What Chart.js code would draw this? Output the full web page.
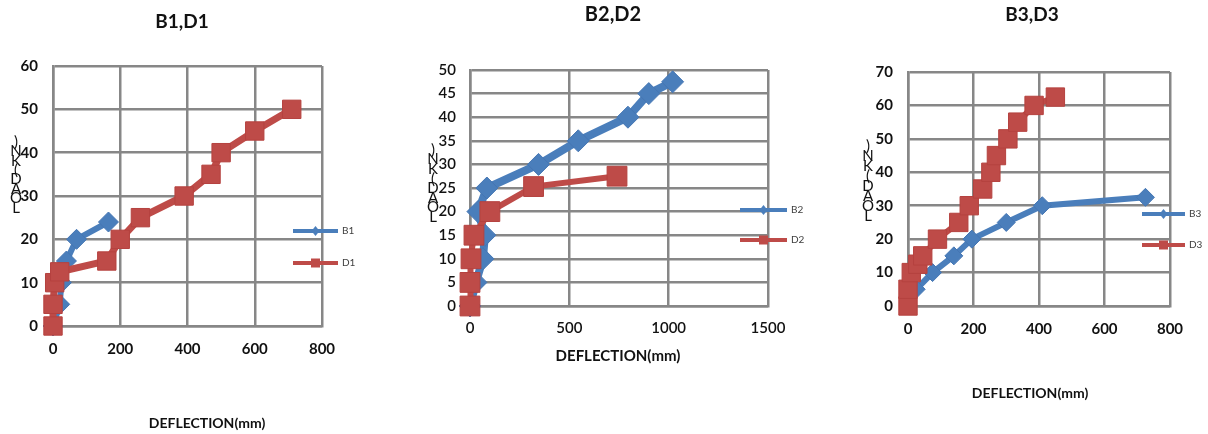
<!DOCTYPE html>
<html>
<head>
<meta charset="utf-8">
<script src="https://cdn.jsdelivr.net/npm/chart.js@4.4.1/dist/chart.umd.min.js"></script>
<style>
  html, body { margin: 0; padding: 0; background: #ffffff; }
  #wrap { position: relative; width: 1208px; height: 434px; overflow: hidden; }
  .panel { position: absolute; top: 0; height: 434px; }
</style>
</head>
<body>
<div id="wrap">
  <div class="panel" style="left:0px;width:400px"><canvas id="c1" width="400" height="434"></canvas></div>
  <div class="panel" style="left:400px;width:420px"><canvas id="c2" width="420" height="434"></canvas></div>
  <div class="panel" style="left:820px;width:388px"><canvas id="c3" width="388" height="434"></canvas></div>
</div>
<script>
// Load–deflection test results, three beam pairs
const b1Deflection = [0, 20, 25, 40, 70, 165];
const b1Load       = [0, 5, 10, 15, 20, 24];
const d1Deflection = [0, 0, 5, 20, 160, 200, 260, 390, 470, 500, 600, 710];
const d1Load       = [0, 5, 10, 12.5, 15, 20, 25, 30, 35, 40, 45, 50];

const b2Deflection = [0, 30, 65, 75, 40, 85, 345, 545, 795, 900, 1020];
const b2Load       = [0, 5, 10, 15, 20, 25, 30, 35, 40, 45, 47.5];
const d2Deflection = [0, 0, 5, 20, 100, 320, 740];
const d2Load       = [0, 5, 10, 15, 20, 25.3, 27.5];

const b3Deflection = [0, 25, 75, 140, 195, 300, 410, 725];
const b3Load       = [0, 5, 10, 15, 20, 25, 30, 32.5];
const d3Deflection = [0, 0, 10, 30, 45, 90, 155, 187, 228, 253, 270, 305, 335, 385, 450];
const d3Load       = [0, 5, 10, 12.5, 15, 20, 25, 30, 35, 40, 45, 50, 55, 60, 62.5];

// Axis tick values
const xTicks1 = [0, 200, 400, 600, 800];
const yTicks1 = [0, 10, 20, 30, 40, 50, 60];
const xTicks2 = [0, 500, 1000, 1500];
const yTicks2 = [0, 5, 10, 15, 20, 25, 30, 35, 40, 45, 50];
const xTicks3 = [0, 200, 400, 600, 800];
const yTicks3 = [0, 10, 20, 30, 40, 50, 60, 70];

// Labels
const chartTitles = ['B1,D1', 'B2,D2', 'B3,D3'];
const seriesNames = [['B1', 'D1'], ['B2', 'D2'], ['B3', 'D3']];
const xAxisTitle = 'DEFLECTION(mm)';
const yAxisTitle = 'LOAD(KN)';

const BLUE = '#4a7ebb';
const RED = '#be4b48';
const GRID = '#878787';
const FONT = 'Lato, "Open Sans", "Liberation Sans", sans-serif';

function toPoints(xs, ys) {
  return xs.map((x, i) => ({ x: x, y: ys[i] }));
}

// Draws title, stacked y-axis caption, x-axis caption and legend
const decorPlugin = {
  id: 'decor',
  afterDraw(chart, args, o) {
    const ctx = chart.ctx;
    ctx.save();
    ctx.fillStyle = '#111111';
    ctx.textAlign = 'center';
    ctx.textBaseline = 'middle';
    ctx.font = 'bold ' + o.titleSize + 'px ' + FONT;
    ctx.fillText(o.title, o.titleX, o.titleY);

    ctx.font = o.xTitleWeight + ' ' + o.xTitleSize + 'px ' + FONT;
    ctx.fillText(xAxisTitle, o.xTitleX, o.xTitleY);

    // vertical stacked caption, read bottom to top
    ctx.font = '15px ' + FONT;
    ctx.fillStyle = '#111111';
    const chars = yAxisTitle.split('').reverse();
    chars.forEach((c, i) => {
      ctx.fillText(c, o.yTitleX, o.yTitleTop + i * o.yTitleStep);
    });

    // legend
    const items = [
      { name: o.names[0], color: BLUE, style: 'diamond', y: o.legendY[0] },
      { name: o.names[1], color: RED, style: 'square', y: o.legendY[1] }
    ];
    items.forEach(it => {
      ctx.strokeStyle = it.color;
      ctx.lineWidth = 4;
      ctx.beginPath();
      ctx.moveTo(o.legendX1, it.y);
      ctx.lineTo(o.legendX2, it.y);
      ctx.stroke();
      const mx = (o.legendX1 + o.legendX2) / 2;
      ctx.fillStyle = it.color;
      ctx.beginPath();
      if (it.style === 'diamond') {
        ctx.moveTo(mx, it.y - 5); ctx.lineTo(mx + 4, it.y);
        ctx.lineTo(mx, it.y + 5); ctx.lineTo(mx - 4, it.y);
        ctx.closePath();
      } else {
        ctx.rect(mx - 4.5, it.y - 4.5, 9, 9);
      }
      ctx.fill();
      ctx.fillStyle = '#404040';
      ctx.textAlign = 'left';
      ctx.font = '10px ' + FONT;
      ctx.fillText(it.name, o.legendX2 + 4, it.y);
      ctx.textAlign = 'center';
    });
    ctx.restore();
  }
};

function makeChart(id, cfg) {
  const el = document.getElementById(id);
  const W = el.width, H = el.height;
  const tickFont = { family: FONT, size: 15, weight: cfg.tickWeight };
  return new Chart(el, {
    type: 'line',
    data: {
      datasets: [
        {
          label: cfg.names[1],
          data: toPoints(cfg.dX, cfg.dY),
          borderColor: RED,
          backgroundColor: RED,
          borderWidth: cfg.redWidth,
          pointStyle: 'rect',
          pointRadius: cfg.squareR,
          pointBackgroundColor: RED,
          pointBorderColor: '#b5423f',
          pointBorderWidth: 1,
          tension: 0,
          clip: false,
          order: 1
        },
        {
          label: cfg.names[0],
          data: toPoints(cfg.bX, cfg.bY),
          borderColor: BLUE,
          backgroundColor: BLUE,
          borderWidth: cfg.blueWidth,
          pointStyle: 'rectRot',
          pointRadius: cfg.diamondR,
          pointBackgroundColor: BLUE,
          pointBorderColor: '#4576b3',
          pointBorderWidth: 1,
          tension: 0,
          clip: false,
          order: 2
        }
      ]
    },
    options: {
      responsive: false,
      animation: false,
      events: [],
      layout: { padding: { left: 0, top: cfg.area.top, right: W - cfg.area.right, bottom: 0 } },
      plugins: {
        legend: { display: false },
        tooltip: { enabled: false },
        decor: cfg.decor
      },
      scales: {
        x: {
          type: 'linear',
          min: cfg.xTicks[0],
          max: cfg.xTicks[cfg.xTicks.length - 1],
          afterBuildTicks: s => { s.ticks = cfg.xTicks.map(v => ({ value: v })); },
          afterFit: s => { s.height = H - cfg.area.bottom; },
          grid: { color: GRID, lineWidth: 2.5, drawTicks: false },
          border: { display: true, color: GRID, width: 2.5 },
          ticks: { font: tickFont, color: '#111111', padding: cfg.xPad, maxRotation: 0, autoSkip: false,
                   callback: v => String(v) }
        },
        y: {
          type: 'linear',
          min: cfg.yTicks[0],
          max: cfg.yTicks[cfg.yTicks.length - 1],
          afterBuildTicks: s => { s.ticks = cfg.yTicks.map(v => ({ value: v })); },
          afterFit: s => { s.width = cfg.area.left; },
          grid: { color: GRID, lineWidth: 2.5, drawTicks: false },
          border: { display: true, color: GRID, width: 2.5 },
          ticks: { font: tickFont, color: '#111111', padding: cfg.yPad, autoSkip: false,
                   callback: v => String(v) }
        }
      }
    },
    plugins: [decorPlugin]
  });
}

makeChart('c1', {
  bX: b1Deflection, bY: b1Load, dX: d1Deflection, dY: d1Load,
  xTicks: xTicks1, yTicks: yTicks1, names: seriesNames[0],
  area: { left: 53, right: 322, top: 66, bottom: 326 },
  xPad: 14, yPad: 15, tickWeight: 'bold',
  blueWidth: 6, redWidth: 7, diamondR: 10, squareR: 13,
  decor: {
    title: chartTitles[0], titleSize: 19, titleX: 182, titleY: 22,
    xTitleSize: 14, xTitleWeight: 'bold', xTitleX: 207, xTitleY: 423,
    yTitleX: 16, yTitleTop: 142, yTitleStep: 9.4,
    names: seriesNames[0], legendX1: 293, legendX2: 338, legendY: [231, 263]
  }
});

makeChart('c2', {
  bX: b2Deflection, bY: b2Load, dX: d2Deflection, dY: d2Load,
  xTicks: xTicks2, yTicks: yTicks2, names: seriesNames[1],
  area: { left: 70, right: 368, top: 70, bottom: 306 },
  xPad: 13, yPad: 14, tickWeight: '600',
  blueWidth: 8, redWidth: 6, diamondR: 11, squareR: 14,
  decor: {
    title: chartTitles[1], titleSize: 20, titleX: 213, titleY: 15,
    xTitleSize: 15, xTitleWeight: 'bold', xTitleX: 218, xTitleY: 356,
    yTitleX: 33, yTitleTop: 150, yTitleStep: 9.6,
    names: seriesNames[1], legendX1: 340, legendX2: 387, legendY: [210, 240]
  }
});

makeChart('c3', {
  bX: b3Deflection, bY: b3Load, dX: d3Deflection, dY: d3Load,
  xTicks: xTicks3, yTicks: yTicks3, names: seriesNames[2],
  area: { left: 88, right: 350, top: 72, bottom: 306 },
  xPad: 14, yPad: 15, tickWeight: 'bold',
  blueWidth: 6, redWidth: 6, diamondR: 9, squareR: 13,
  decor: {
    title: chartTitles[2], titleSize: 19, titleX: 212, titleY: 15,
    xTitleSize: 14, xTitleWeight: 'bold', xTitleX: 210, xTitleY: 393,
    yTitleX: 48, yTitleTop: 146, yTitleStep: 10,
    names: seriesNames[2], legendX1: 322, legendX2: 365, legendY: [214, 245]
  }
});
</script>
</body>
</html>
